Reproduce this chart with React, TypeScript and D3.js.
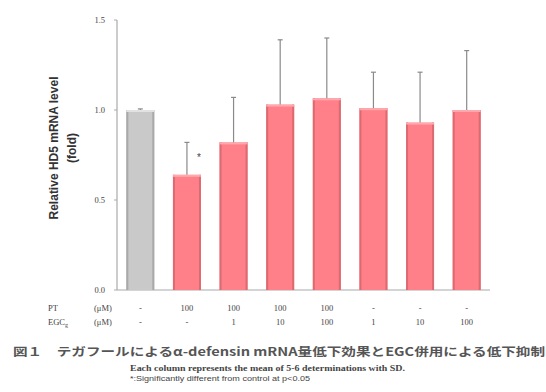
import React from "react";
import * as d3 from "d3";

const groups = ["ctrl", "pt", "pt_e1", "pt_e10", "pt_e100", "e1", "e10", "e100"];
const means = [1.0, 0.64, 0.82, 1.03, 1.065, 1.01, 0.93, 1.0];
const errTops = [1.006, 0.82, 1.07, 1.39, 1.4, 1.21, 1.21, 1.33];
const ptDose = ["-", "100", "100", "100", "100", "-", "-", "-"];
const egcDose = ["-", "-", "1", "10", "100", "1", "10", "100"];
const sigGroups = ["pt"];
const yTicks = [0, 0.5, 1.0, 1.5];

const W = 546;
const H = 392;
const left = 117;
const right = 490;
const top = 20;
const bottom = 290;

const App = () => {
  const x = d3.scaleBand().domain(groups).range([left, right]).paddingInner(0.4).paddingOuter(0.2);
  const y = d3.scaleLinear().domain([0, 1.5]).range([bottom, top]);
  const bw = x.bandwidth();
  const serif = "'Liberation Serif', 'DejaVu Serif', serif";
  const sans = "'Liberation Sans', Arial, sans-serif";
  const jp = "'Noto Sans CJK JP', sans-serif";

  return (
    <svg width={W} height={H} style={{ position: "absolute", left: 0, top: 0 }}>
      <rect width={W} height={H} fill="#fff" />
      {/* axes */}
      <line x1={left} x2={left} y1={y(1.5)} y2={bottom} stroke="#aaa" strokeWidth={1.2} />
      <line x1={left} x2={right} y1={bottom} y2={bottom} stroke="#aaa" strokeWidth={1.2} />
      {yTicks.map((t) => (
        <g key={t}>
          <line x1={left - 3} x2={left} y1={y(t)} y2={y(t)} stroke="#aaa" />
          <text x={105} y={y(t) + 3} textAnchor="end" fontFamily={serif} fontSize={8.5} fill="#444">
            {t.toFixed(1)}
          </text>
        </g>
      ))}
      {/* y title */}
      <g transform={`translate(58,148) rotate(-90)`} fontFamily={sans} fontWeight="bold" fontSize={12} fill="#333">
        <text x={0} y={0} textAnchor="middle">Relative HD5 mRNA level</text>
        <text x={0} y={18} textAnchor="middle">(fold)</text>
      </g>
      {/* bars */}
      {groups.map((g, i) => {
        const x0 = x(g) as number;
        const y0 = y(means[i]);
        const h = bottom - y0;
        const gray = i === 0;
        const fill = gray ? "#c9c9c9" : "#ff8088";
        const edge = gray ? "#a9a9a9" : "#dc6a72";
        const light = gray ? "#e2e2e2" : "#ffa8ae";
        const cx = x0 + bw / 2;
        return (
          <g key={g}>
            <rect x={x0} y={y0} width={bw} height={h} fill={fill} />
            <rect x={x0} y={y0} width={2} height={h} fill={edge} />
            <rect x={x0 + bw - 2} y={y0} width={2} height={h} fill={edge} />
            <rect x={x0} y={y0} width={bw} height={2} fill={light} />
            <line x1={cx} x2={cx} y1={y0} y2={y(errTops[i])} stroke="#8a8a8a" strokeWidth={1.2} />
            <line x1={cx - 2.5} x2={cx + 2.5} y1={y(errTops[i])} y2={y(errTops[i])} stroke="#8a8a8a" strokeWidth={1.2} />
            {sigGroups.includes(g) && (
              <text x={cx + 12} y={y0 - 14} textAnchor="middle" fontFamily={sans} fontSize={10} fill="#444">*</text>
            )}
            <text x={cx} y={311} textAnchor="middle" fontFamily={serif} fontSize={8.5} fill="#444">{ptDose[i]}</text>
            <text x={cx} y={325} textAnchor="middle" fontFamily={serif} fontSize={8.5} fill="#444">{egcDose[i]}</text>
          </g>
        );
      })}
      {/* row labels */}
      <text x={48} y={311} fontFamily={serif} fontSize={8.5} fill="#444">PT</text>
      <text x={94} y={311} fontFamily={serif} fontSize={8.5} fill="#444">(μM)</text>
      <text x={48} y={325} fontFamily={serif} fontSize={8.5} fill="#444">
        EGC<tspan fontSize={6} dy={1.5}>g</tspan>
      </text>
      <text x={94} y={325} fontFamily={serif} fontSize={8.5} fill="#444">(μM)</text>
      {/* caption */}
      <text x={13} y={356} fontFamily={jp} fontWeight="bold" fontSize={11.5} fill="#555" textLength={532} lengthAdjust="spacingAndGlyphs">
        図１　テガフールによるα-defensin mRNA量低下効果とEGC併用による低下抑制
      </text>
      <text x={130} y={371} fontFamily={serif} fontWeight="bold" fontSize={7.5} fill="#444" textLength={275} lengthAdjust="spacingAndGlyphs">
        Each column represents the mean of  5-6 determinations with SD.
      </text>
      <text x={130} y={381} fontFamily={sans} fontSize={7.5} fill="#444" textLength={180} lengthAdjust="spacingAndGlyphs">
        *:Significantly different from control at p&lt;0.05
      </text>
    </svg>
  );
};

export default App;
